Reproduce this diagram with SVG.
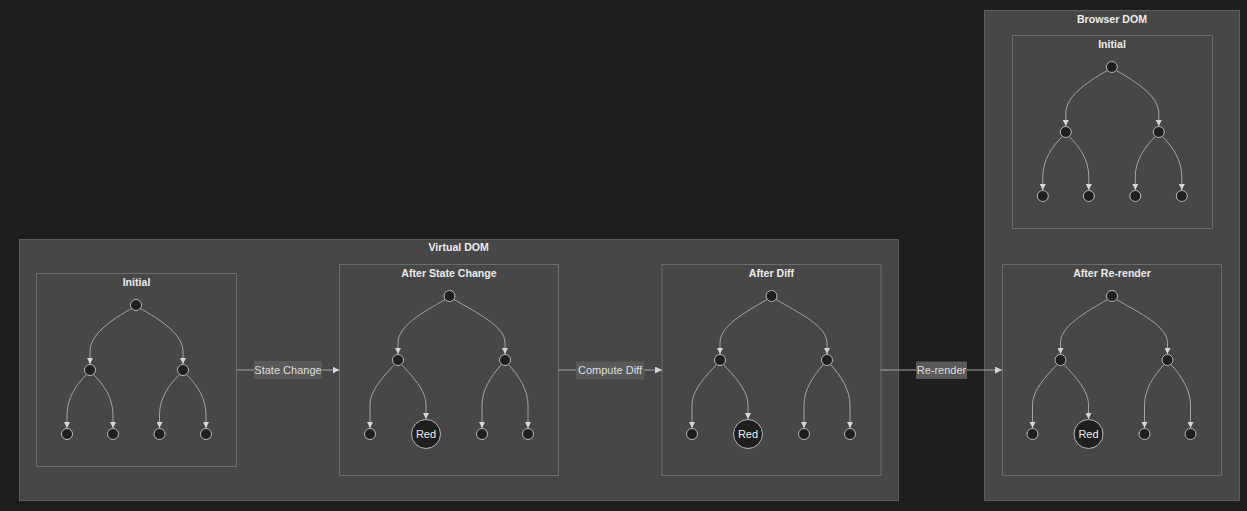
<svg xmlns="http://www.w3.org/2000/svg" width="1247" height="511" viewBox="0 0 1247 511">
<style>
.bg{fill:#1e1e1e}
.outer{fill:#474747;stroke:#5c5c5c;stroke-width:1}
.inner{fill:#474747;stroke:#6c6c6c;stroke-width:1}
.title{font-family:"Liberation Sans",Arial,sans-serif;font-size:10.6px;font-weight:bold;fill:#ececec;text-anchor:middle}
.edge{fill:none;stroke:#a3a3a3;stroke-width:1}
.lbl{fill:#595959}
.ltxt{font-family:"Liberation Sans",Arial,sans-serif;font-size:11px;fill:#dedede;text-anchor:middle}
.n{fill:#1f1f1f;stroke:#b8b8b8;stroke-width:1}
.ntxt{font-family:"Liberation Sans",Arial,sans-serif;font-size:11px;fill:#eeeeee;text-anchor:middle}
</style>
<defs>
<marker id="ah" viewBox="0 0 10 10" refX="10" refY="5" markerWidth="6" markerHeight="6" markerUnits="userSpaceOnUse" orient="auto">
<path d="M0,0 L10,5 L0,10 z" fill="#d6d6d6"/>
</marker>
<marker id="ah2" viewBox="0 0 10 10" refX="10" refY="5" markerWidth="7" markerHeight="7" markerUnits="userSpaceOnUse" orient="auto">
<path d="M0,0 L10,5 L0,10 z" fill="#d6d6d6"/>
</marker>
</defs>
<rect class="bg" x="0" y="0" width="1247" height="511"/>

<g id="clusters">
<g id="virtual-dom"><rect class="outer" x="19.5" y="239.5" width="879" height="261"/><text class="title" x="458.7" y="251">Virtual DOM</text></g>
<g id="vdom-initial"><rect class="inner" x="36.5" y="273.5" width="200" height="193"/><text class="title" x="136.5" y="286">Initial</text></g>
<g id="vdom-after-state"><rect class="inner" x="339.5" y="264.5" width="219" height="211"/><text class="title" x="449" y="277">After State Change</text></g>
<g id="vdom-after-diff"><rect class="inner" x="662" y="264.5" width="219" height="211"/><text class="title" x="771.5" y="277">After Diff</text></g>
<g id="browser-dom"><rect class="outer" x="984.5" y="10.5" width="255" height="490"/><text class="title" x="1112" y="23">Browser DOM</text></g>
<g id="bdom-initial"><rect class="inner" x="1012.5" y="35.5" width="200" height="193"/><text class="title" x="1112" y="48">Initial</text></g>
<g id="bdom-after-rerender"><rect class="inner" x="1002.5" y="264.5" width="219" height="211"/><text class="title" x="1112" y="277">After Re-render</text></g>
</g>

<g id="connectors">
<g id="edges-vdom-initial">
<path class="edge" marker-end="url(#ah)" d="M131.5,308.5 C108,322 90,335 90,352 L90,364"/>
<path class="edge" marker-end="url(#ah)" d="M140.5,308.5 C164,322 183,335 183,352 L183,364"/>
<path class="edge" marker-end="url(#ah)" d="M86.5,374.5 C76,385 67,398 67,415 L67,428"/>
<path class="edge" marker-end="url(#ah)" d="M93.5,374.5 C104,385 113,398 113,415 L113,428"/>
<path class="edge" marker-end="url(#ah)" d="M179.5,374.5 C169,385 159.5,398 159.5,415 L159.5,428"/>
<path class="edge" marker-end="url(#ah)" d="M186.5,374.5 C197,385 206,398 206,415 L206,428"/>
</g>
<g id="edges-bdom-initial" transform="translate(975.8,-238)">
<path class="edge" marker-end="url(#ah)" d="M131.5,308.5 C108,322 90,335 90,352 L90,364"/>
<path class="edge" marker-end="url(#ah)" d="M140.5,308.5 C164,322 183,335 183,352 L183,364"/>
<path class="edge" marker-end="url(#ah)" d="M86.5,374.5 C76,385 67,398 67,415 L67,428"/>
<path class="edge" marker-end="url(#ah)" d="M93.5,374.5 C104,385 113,398 113,415 L113,428"/>
<path class="edge" marker-end="url(#ah)" d="M179.5,374.5 C169,385 159.5,398 159.5,415 L159.5,428"/>
<path class="edge" marker-end="url(#ah)" d="M186.5,374.5 C197,385 206,398 206,415 L206,428"/>
</g>
<g id="edges-vdom-after-state">
<path class="edge" marker-end="url(#ah)" d="M445,299.5 C422,313 398,326 398,343 L398,354"/>
<path class="edge" marker-end="url(#ah)" d="M454,299.5 C477,313 505,326 505,343 L505,354"/>
<path class="edge" marker-end="url(#ah)" d="M394.5,364.5 C384,376 370,390 370,405 L370,428"/>
<path class="edge" marker-end="url(#ah)" d="M401.5,364.5 C412,376 426,390 426,405 L426,419"/>
<path class="edge" marker-end="url(#ah)" d="M501.5,364.5 C491,376 482,390 482,405 L482,428"/>
<path class="edge" marker-end="url(#ah)" d="M508.5,364.5 C519,376 528,390 528,405 L528,428"/>
</g>
<g id="edges-vdom-after-diff" transform="translate(322,0)">
<path class="edge" marker-end="url(#ah)" d="M445,299.5 C422,313 398,326 398,343 L398,354"/>
<path class="edge" marker-end="url(#ah)" d="M454,299.5 C477,313 505,326 505,343 L505,354"/>
<path class="edge" marker-end="url(#ah)" d="M394.5,364.5 C384,376 370,390 370,405 L370,428"/>
<path class="edge" marker-end="url(#ah)" d="M401.5,364.5 C412,376 426,390 426,405 L426,419"/>
<path class="edge" marker-end="url(#ah)" d="M501.5,364.5 C491,376 482,390 482,405 L482,428"/>
<path class="edge" marker-end="url(#ah)" d="M508.5,364.5 C519,376 528,390 528,405 L528,428"/>
</g>
<g id="edges-bdom-after-rerender" transform="translate(662.5,0)">
<path class="edge" marker-end="url(#ah)" d="M445,299.5 C422,313 398,326 398,343 L398,354"/>
<path class="edge" marker-end="url(#ah)" d="M454,299.5 C477,313 505,326 505,343 L505,354"/>
<path class="edge" marker-end="url(#ah)" d="M394.5,364.5 C384,376 370,390 370,405 L370,428"/>
<path class="edge" marker-end="url(#ah)" d="M401.5,364.5 C412,376 426,390 426,405 L426,419"/>
<path class="edge" marker-end="url(#ah)" d="M501.5,364.5 C491,376 482,390 482,405 L482,428"/>
<path class="edge" marker-end="url(#ah)" d="M508.5,364.5 C519,376 528,390 528,405 L528,428"/>
</g>
<g id="cluster-edges">
<path class="edge" marker-end="url(#ah2)" d="M236.5,370 L339.5,370"/>
<path class="edge" marker-end="url(#ah2)" d="M558.5,370 L662,370"/>
<path class="edge" marker-end="url(#ah2)" d="M880.5,370 L1002,370"/>
</g>
<g id="edge-labels">
<rect class="lbl" x="254" y="361" width="68" height="18"/><text class="ltxt" x="288" y="374">State Change</text>
<rect class="lbl" x="576" y="361.5" width="68" height="18"/><text class="ltxt" x="610" y="374">Compute Diff</text>
<rect class="lbl" x="916" y="361.5" width="51" height="17.5"/><text class="ltxt" x="941.5" y="374">Re-render</text>
</g>
</g>

<g id="nodes">
<g id="vi-root"><circle class="n" cx="136" cy="305" r="5.5"/></g>
<g id="vi-a"><circle class="n" cx="90" cy="370" r="5.5"/></g>
<g id="vi-b"><circle class="n" cx="183" cy="370" r="5.5"/></g>
<g id="vi-a1"><circle class="n" cx="67" cy="434" r="5.5"/></g>
<g id="vi-a2"><circle class="n" cx="113" cy="434" r="5.5"/></g>
<g id="vi-b1"><circle class="n" cx="159.5" cy="434" r="5.5"/></g>
<g id="vi-b2"><circle class="n" cx="206" cy="434" r="5.5"/></g>

<g id="vs-root"><circle class="n" cx="449.5" cy="296" r="5.5"/></g>
<g id="vs-a"><circle class="n" cx="398" cy="360" r="5.5"/></g>
<g id="vs-b"><circle class="n" cx="505" cy="360" r="5.5"/></g>
<g id="vs-a1"><circle class="n" cx="370" cy="434" r="5.5"/></g>
<g id="vs-a2"><circle class="n" cx="426" cy="434" r="14.5"/><text class="ntxt" x="426" y="438">Red</text></g>
<g id="vs-b1"><circle class="n" cx="482" cy="434" r="5.5"/></g>
<g id="vs-b2"><circle class="n" cx="528" cy="434" r="5.5"/></g>

<g id="vd-root"><circle class="n" cx="771.5" cy="296" r="5.5"/></g>
<g id="vd-a"><circle class="n" cx="720" cy="360" r="5.5"/></g>
<g id="vd-b"><circle class="n" cx="827" cy="360" r="5.5"/></g>
<g id="vd-a1"><circle class="n" cx="692" cy="434" r="5.5"/></g>
<g id="vd-a2"><circle class="n" cx="748" cy="434" r="14.5"/><text class="ntxt" x="748" y="438">Red</text></g>
<g id="vd-b1"><circle class="n" cx="804" cy="434" r="5.5"/></g>
<g id="vd-b2"><circle class="n" cx="850" cy="434" r="5.5"/></g>

<g id="bi-root"><circle class="n" cx="1111.8" cy="67" r="5.5"/></g>
<g id="bi-a"><circle class="n" cx="1065.8" cy="132" r="5.5"/></g>
<g id="bi-b"><circle class="n" cx="1158.8" cy="132" r="5.5"/></g>
<g id="bi-a1"><circle class="n" cx="1042.8" cy="196" r="5.5"/></g>
<g id="bi-a2"><circle class="n" cx="1088.8" cy="196" r="5.5"/></g>
<g id="bi-b1"><circle class="n" cx="1135.3" cy="196" r="5.5"/></g>
<g id="bi-b2"><circle class="n" cx="1181.8" cy="196" r="5.5"/></g>

<g id="br-root"><circle class="n" cx="1112" cy="296" r="5.5"/></g>
<g id="br-a"><circle class="n" cx="1060.5" cy="360" r="5.5"/></g>
<g id="br-b"><circle class="n" cx="1167.5" cy="360" r="5.5"/></g>
<g id="br-a1"><circle class="n" cx="1032.5" cy="434" r="5.5"/></g>
<g id="br-a2"><circle class="n" cx="1088.5" cy="434" r="14.5"/><text class="ntxt" x="1088.5" y="438">Red</text></g>
<g id="br-b1"><circle class="n" cx="1144.5" cy="434" r="5.5"/></g>
<g id="br-b2"><circle class="n" cx="1190.5" cy="434" r="5.5"/></g>
</g>
</svg>
